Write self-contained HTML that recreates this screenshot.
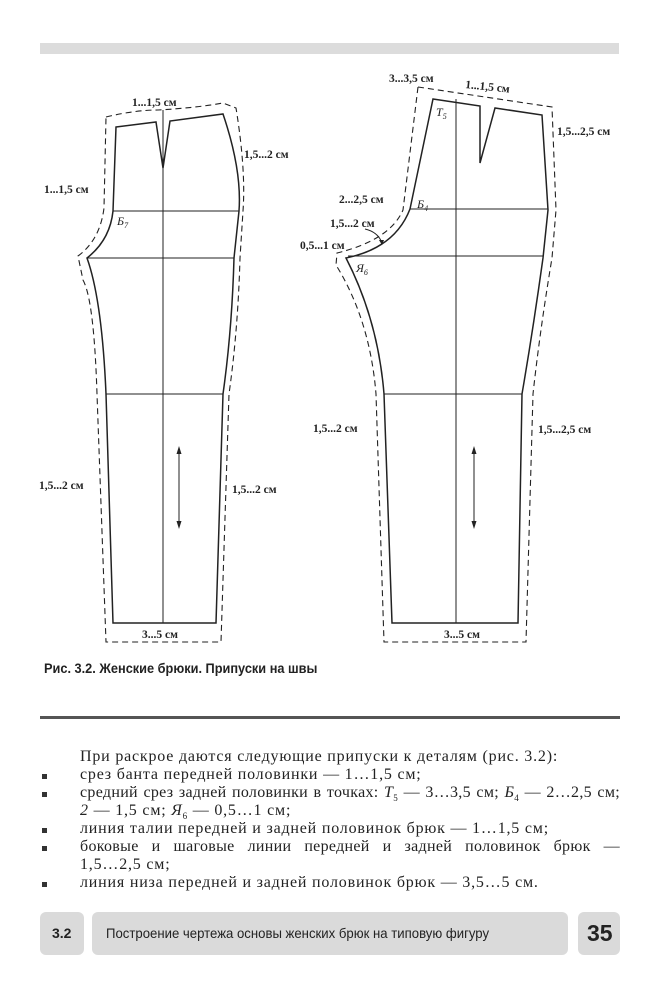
<!DOCTYPE html>
<html><head><meta charset="utf-8"><style>
html,body{margin:0;padding:0;background:#fff;}
body{width:659px;height:1000px;position:relative;overflow:hidden;font-family:"Liberation Serif","DejaVu Serif",serif;color:#222;}
.bar{position:absolute;left:40px;top:43px;width:579px;height:11px;background:#dcdcdc;}
.cap{position:absolute;left:44px;top:661px;font-family:"Liberation Sans",sans-serif;font-size:13.5px;font-weight:bold;white-space:nowrap;color:#222;transform:scaleX(0.945);transform-origin:left;}
.rule{position:absolute;left:40px;top:716px;width:580px;height:3px;background:#555;}
.t{position:absolute;left:80px;width:540px;font-size:16px;line-height:18px;letter-spacing:0.8px;white-space:nowrap;color:#222;}
.j{text-align:justify;text-align-last:justify;white-space:normal;letter-spacing:0.3px;}
.b{position:absolute;left:42px;width:5px;height:5px;background:#333;}
.fb{position:absolute;top:912px;height:43px;background:#dadada;border-radius:6px;font-family:"Liberation Sans",sans-serif;}
</style></head><body>
<div class="bar"></div>
<svg width="659" height="660" style="position:absolute;left:0;top:0" xmlns="http://www.w3.org/2000/svg">
<g fill="none" stroke="#222" stroke-width="1.5">
<path d="M116,127 L156,122 L163,168 L170,121 L223,114 Q242,170 239,211 L234,258 Q232,330 223,394 L216,623 L113,623 L106,394 Q102,300 87,258 Q110,240 113,211 Z"/>
<path d="M433,99 L480,106 L480,163 L495,108 L542,115 L548,210 L543,258 Q533,330 522,394 L518,623 L392,623 L384,394 Q378,320 346,258 Q395,248 410,209 Z"/>
</g>
<g fill="none" stroke="#222" stroke-width="1">
<line x1="163" y1="110" x2="163" y2="623"/>
<line x1="113" y1="211" x2="239" y2="211"/>
<line x1="87" y1="258" x2="234" y2="258"/>
<line x1="106" y1="394" x2="223" y2="394"/>
<line x1="456" y1="99" x2="456" y2="623"/>
<line x1="410" y1="209" x2="548" y2="209"/>
<line x1="348" y1="256" x2="543" y2="256"/>
<line x1="384" y1="394" x2="522" y2="394"/>
<line x1="179" y1="450" x2="179" y2="525"/>
<line x1="474" y1="450" x2="474" y2="525"/>
<path d="M365,229 Q378,232 382,243"/>
</g>
<g fill="#222"><path d="M179,446 l-2.5,8 h5z M179,529 l-2.5,-8 h5z M474,446 l-2.5,8 h5z M474,529 l-2.5,-8 h5z M382,245 l-3,-5 h5z"/></g>
<g fill="none" stroke="#222" stroke-width="1.1" stroke-dasharray="6,4">
<path d="M106,117 Q135,110 158,110 Q195,108 223,103 L236,108 Q246,170 243,211 L240,258 Q238,330 229,394 L221,642 L106,642 L97,394 Q94,300 83,280 L78,256 Q100,240 104,208 Z"/>
<path d="M418,87 L552,107 L556,210 L552,258 Q540,330 533,394 L526,642 L384,642 L376,394 Q370,320 336,265 L337,253 Q390,240 403,210 Z"/>
</g>
<g font-family="Liberation Serif,serif" font-size="11.5" fill="#222" font-weight="bold">
<text x="132" y="106">1...1,5 см</text>
<text x="244" y="158">1,5...2 см</text>
<text x="44" y="193">1...1,5 см</text>
<text x="39" y="489">1,5...2 см</text>
<text x="232" y="493">1,5...2 см</text>
<text x="142" y="638">3...5 см</text>
<text x="389" y="82">3...3,5 см</text>
<text x="465" y="88" transform="rotate(6 465 88)">1...1,5 см</text>
<text x="557" y="135">1,5...2,5 см</text>
<text x="339" y="203">2...2,5 см</text>
<text x="330" y="227">1,5...2 см</text>
<text x="300" y="249">0,5...1 см</text>
<text x="313" y="432">1,5...2 см</text>
<text x="538" y="433">1,5...2,5 см</text>
<text x="444" y="638">3...5 см</text>
</g>
<g font-family="Liberation Serif,serif" font-size="12" font-style="italic" fill="#222">
<text x="117" y="225">Б<tspan font-size="8" dy="3">7</tspan></text>
<text x="436" y="116">T<tspan font-size="8" dy="3">5</tspan></text>
<text x="417" y="208">Б<tspan font-size="8" dy="3">4</tspan></text>
<text x="356" y="272">Я<tspan font-size="8" dy="3">6</tspan></text>
</g>
</svg>
<div class="cap">Рис. 3.2. Женские брюки. Припуски на швы</div>
<div class="rule"></div>
<div class="t" style="top:748px">При раскрое даются следующие припуски к деталям (рис. 3.2):</div>
<div class="b" style="top:774px"></div>
<div class="t" style="top:766px">срез банта передней половинки — 1…1,5 см;</div>
<div class="b" style="top:792px"></div>
<div class="t j" style="top:784px">средний срез задней половинки в точках: <i>T</i><sub style="font-size:9px">5</sub> — 3…3,5 см; <i>Б</i><sub style="font-size:9px">4</sub> — 2…2,5 см;</div>
<div class="t" style="top:802px"><i>2</i> — 1,5 см; <i>Я</i><sub style="font-size:9px">6</sub> — 0,5…1 см;</div>
<div class="b" style="top:828px"></div>
<div class="t" style="top:820px">линия талии передней и задней половинок брюк — 1…1,5 см;</div>
<div class="b" style="top:846px"></div>
<div class="t j" style="top:838px">боковые и шаговые линии передней и задней половинок брюк —</div>
<div class="t" style="top:856px">1,5…2,5 см;</div>
<div class="b" style="top:882px"></div>
<div class="t" style="top:874px">линия низа передней и задней половинок брюк — 3,5…5 см.</div>
<div class="fb" style="left:40px;width:44px;"><span style="position:absolute;left:12px;top:13px;font-size:14px;font-weight:bold;">3.2</span></div>
<div class="fb" style="left:92px;width:476px;"><span style="position:absolute;left:14px;top:13px;font-size:14px;white-space:nowrap;transform:scaleX(0.94);transform-origin:left;display:inline-block;">Построение чертежа основы женских брюк на типовую фигуру</span></div>
<div class="fb" style="left:578px;width:42px;"><span style="position:absolute;left:9px;top:8px;font-size:23px;font-weight:bold;">35</span></div>
</body></html>
